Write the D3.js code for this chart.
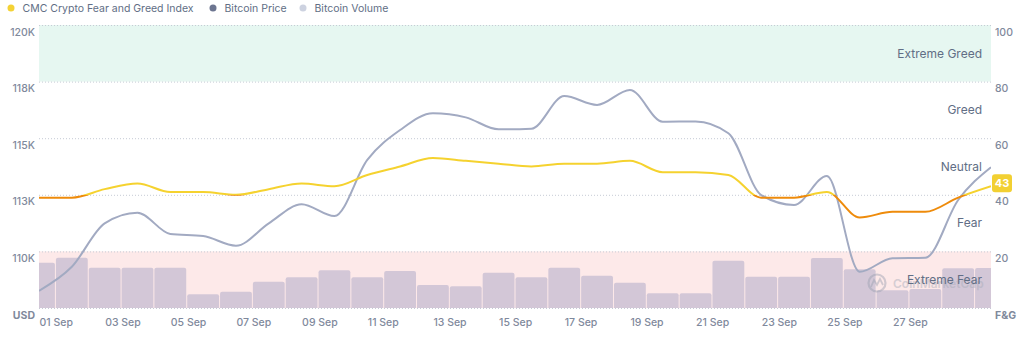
<!DOCTYPE html>
<html>
<head>
<meta charset="utf-8">
<script src="https://cdn.jsdelivr.net/npm/d3@7/dist/d3.min.js"></script>
<style>
  html, body { margin: 0; padding: 0; background: #fff; }
  svg { display: block; font-family: Inter, "Noto Sans", sans-serif; }
</style>
</head>
<body>
<svg id="chart" width="1024" height="340"></svg>
<script>
// ---- data ----
const days = d3.range(1, 31); // 1..30 September
const fearGreed = [39,39,42,44,41,41,40,42,44,43,47,50,53,52,51,50,51,51,52,48,48,47,39,39,41,32,34,34,39,43];
const btcPrice = [108260,109320,111240,111710,110770,110680,110250,111240,112080,111560,114040,115360,116100,115920,115390,
                  115420,116860,116470,117130,115730,115740,115220,112490,112050,113330,109100,109700,109720,112270,113720];
const btcVolume = [40.0,44.4,35.6,35.6,35.6,12.1,14.4,23.2,27.1,33.3,27.1,32.7,20.3,19.2,31.2,
                   27.1,35.6,28.5,22.4,13.0,13.0,41.8,27.7,27.7,44.2,34.2,15.6,16.8,35.1,35.3]; // billions USD
const priceTicks = [107500,110000,112500,115000,117500,120000];
const fgTicks = [0,20,40,60,80,100];
const xTickDays = [1,3,5,7,9,11,13,15,17,19,21,23,25,27];
const zones = [
  {from:80,to:100,label:"Extreme Greed",mid:90},
  {from:60,to:80,label:"Greed",mid:70},
  {from:40,to:60,label:"Neutral",mid:50},
  {from:20,to:40,label:"Fear",mid:30},
  {from:0,to:20,label:"Extreme Fear",mid:10}
];
const legendItems = [
  {label:"CMC Crypto Fear and Greed Index", color:"#f4d235"},
  {label:"Bitcoin Price", color:"#6c7590"},
  {label:"Bitcoin Volume", color:"#cdd2e0"}
];

// ---- layout ----
const L = 39, R = 991, T = 25, B = 308;
const svg = d3.select("#chart");

const x = d3.scaleLinear().domain([1, 30]).range([L, R]);
const yFG = d3.scaleLinear().domain([0, 100]).range([B, T]);
const yP = d3.scaleLinear().domain([107500, 120000]).range([B, T]);
const yV = d3.scaleLinear().domain([0, 250]).range([B, T]);
const step = x(2) - x(1);

const defs = svg.append("defs");
defs.append("clipPath").attr("id", "plotClip")
  .append("rect").attr("x", L).attr("y", T - 2).attr("width", R - L).attr("height", B - T + 4);
const grad = defs.append("linearGradient").attr("id", "fgGrad")
  .attr("gradientUnits", "userSpaceOnUse")
  .attr("x1", 0).attr("x2", 0).attr("y1", yFG(100)).attr("y2", yFG(0));
const cut = (100 - 40) / 100;
grad.append("stop").attr("offset", 0).attr("stop-color", "#f5d22f");
grad.append("stop").attr("offset", cut).attr("stop-color", "#f5d22f");
grad.append("stop").attr("offset", cut).attr("stop-color", "#ee8b0b");
grad.append("stop").attr("offset", 1).attr("stop-color", "#ee8b0b");

// bands
svg.append("rect").attr("x", L).attr("width", R - L)
  .attr("y", yFG(100)).attr("height", yFG(80) - yFG(100)).attr("fill", "#e6f7f1");
svg.append("rect").attr("x", L).attr("width", R - L)
  .attr("y", yFG(20)).attr("height", yFG(0) - yFG(20)).attr("fill", "#fde9e9");

// gridlines
svg.append("g").selectAll("line").data(fgTicks).join("line")
  .attr("x1", L).attr("x2", R)
  .attr("y1", d => yFG(d) + 0.5).attr("y2", d => yFG(d) + 0.5)
  .attr("stroke", "#c6cbd5").attr("stroke-width", 1).attr("stroke-dasharray", "1,2");

// bars
const barPath = (d, i) => {
  const cx = x(days[i]);
  const x0 = cx - step / 2 + 0.5, x1 = cx + step / 2 - 0.5;
  const y0 = yV(d), yb = B, r = 2;
  return `M${x0},${yb}V${y0 + r}Q${x0},${y0} ${x0 + r},${y0}H${x1 - r}Q${x1},${y0} ${x1},${y0 + r}V${yb}Z`;
};
svg.append("g").attr("clip-path", "url(#plotClip)")
  .selectAll("path").data(btcVolume).join("path")
  .attr("d", barPath).attr("fill", "#d3c7d7");

// watermark
const wm = svg.append("g").attr("opacity", 0.45);
wm.append("circle").attr("cx", 877).attr("cy", 283).attr("r", 8.5)
  .attr("fill", "none").attr("stroke", "#9aa0b0").attr("stroke-width", 2.2);
wm.append("path").attr("d", "M871,287 L874,280 L877,285 L880,279 L883,285")
  .attr("fill", "none").attr("stroke", "#9aa0b0").attr("stroke-width", 1.8);
wm.append("text").attr("x", 893).attr("y", 288).attr("font-size", 12).attr("font-weight", 600)
  .attr("fill", "#a7acb9").text("CoinMarketCap");

// zone labels
svg.append("g").selectAll("text").data(zones).join("text")
  .attr("x", 982).attr("y", d => yFG(d.mid)).attr("dy", "0.35em")
  .attr("text-anchor", "end").attr("font-size", 12).attr("fill", "#616e85")
  .text(d => d.label);

// price line
const pts = days.map((d, i) => [d, i]);
svg.append("path").attr("clip-path", "url(#plotClip)")
  .attr("d", d3.line().x(d => x(d[0])).y(d => yP(btcPrice[d[1]])).curve(d3.curveMonotoneX)(pts))
  .attr("fill", "none").attr("stroke", "#a2aac2").attr("stroke-width", 2);

// fear & greed line
svg.append("path").attr("clip-path", "url(#plotClip)")
  .attr("d", d3.line().x(d => x(d[0])).y(d => yFG(fearGreed[d[1]])).curve(d3.curveMonotoneX)(pts))
  .attr("fill", "none").attr("stroke", "url(#fgGrad)").attr("stroke-width", 2);

// left axis
const axisColor = "#7f899c";
const leftAxis = d3.axisLeft(yP).tickValues(priceTicks).tickSize(0).tickPadding(0)
  .tickFormat(d => d === 107500 ? "USD" : Math.round(d / 1000) + "K");
const gl = svg.append("g").attr("transform", `translate(35,0)`).call(leftAxis);
gl.select(".domain").remove();
gl.selectAll("text").attr("font-family", "Inter, sans-serif").attr("font-size", 10.5)
  .attr("font-weight", d => d === 107500 ? 700 : 500)
  .attr("fill", axisColor).attr("dy", null).attr("y", 10);

// right axis
const rightAxis = d3.axisRight(yFG).tickValues(fgTicks).tickSize(0).tickPadding(0)
  .tickFormat(d => d === 0 ? "F&G" : d);
const gr = svg.append("g").attr("transform", `translate(995,0)`).call(rightAxis);
gr.select(".domain").remove();
gr.selectAll("text").attr("font-family", "Inter, sans-serif").attr("font-size", 10.5)
  .attr("font-weight", d => d === 0 ? 700 : 500)
  .attr("fill", axisColor).attr("dy", null).attr("y", 10);

// bottom axis
const bottomAxis = d3.axisBottom(x).tickValues(xTickDays).tickSize(0).tickPadding(0)
  .tickFormat(d => String(d).padStart(2, "0") + " Sep");
const gb = svg.append("g").attr("transform", `translate(0,${B})`).call(bottomAxis);
gb.select(".domain").remove();
gb.selectAll("text").attr("font-family", "Inter, sans-serif").attr("font-size", 10.5)
  .attr("font-weight", 500).attr("fill", axisColor)
  .attr("text-anchor", "start").attr("dy", null).attr("y", 18);

// last value badge
const last = fearGreed[fearGreed.length - 1];
const by = yFG(last) - 3;
svg.append("rect").attr("x", 992).attr("y", by - 9).attr("width", 20).attr("height", 18).attr("rx", 3)
  .attr("fill", "#f2d032");
svg.append("text").attr("x", 1002).attr("y", by).attr("dy", "0.35em").attr("text-anchor", "middle")
  .attr("font-size", 11).attr("font-weight", 700).attr("fill", "#fff").text(last);

// legend
const lg = svg.append("g");
const lx = [11, 213, 303];
legendItems.forEach((it, i) => {
  lg.append("circle").attr("cx", lx[i]).attr("cy", 8).attr("r", 3.5).attr("fill", it.color);
  lg.append("text").attr("x", lx[i] + 11.5).attr("y", 8).attr("dy", "0.35em")
    .attr("font-size", 10.5).attr("fill", "#616e85").text(it.label);
});
</script>
</body>
</html>
